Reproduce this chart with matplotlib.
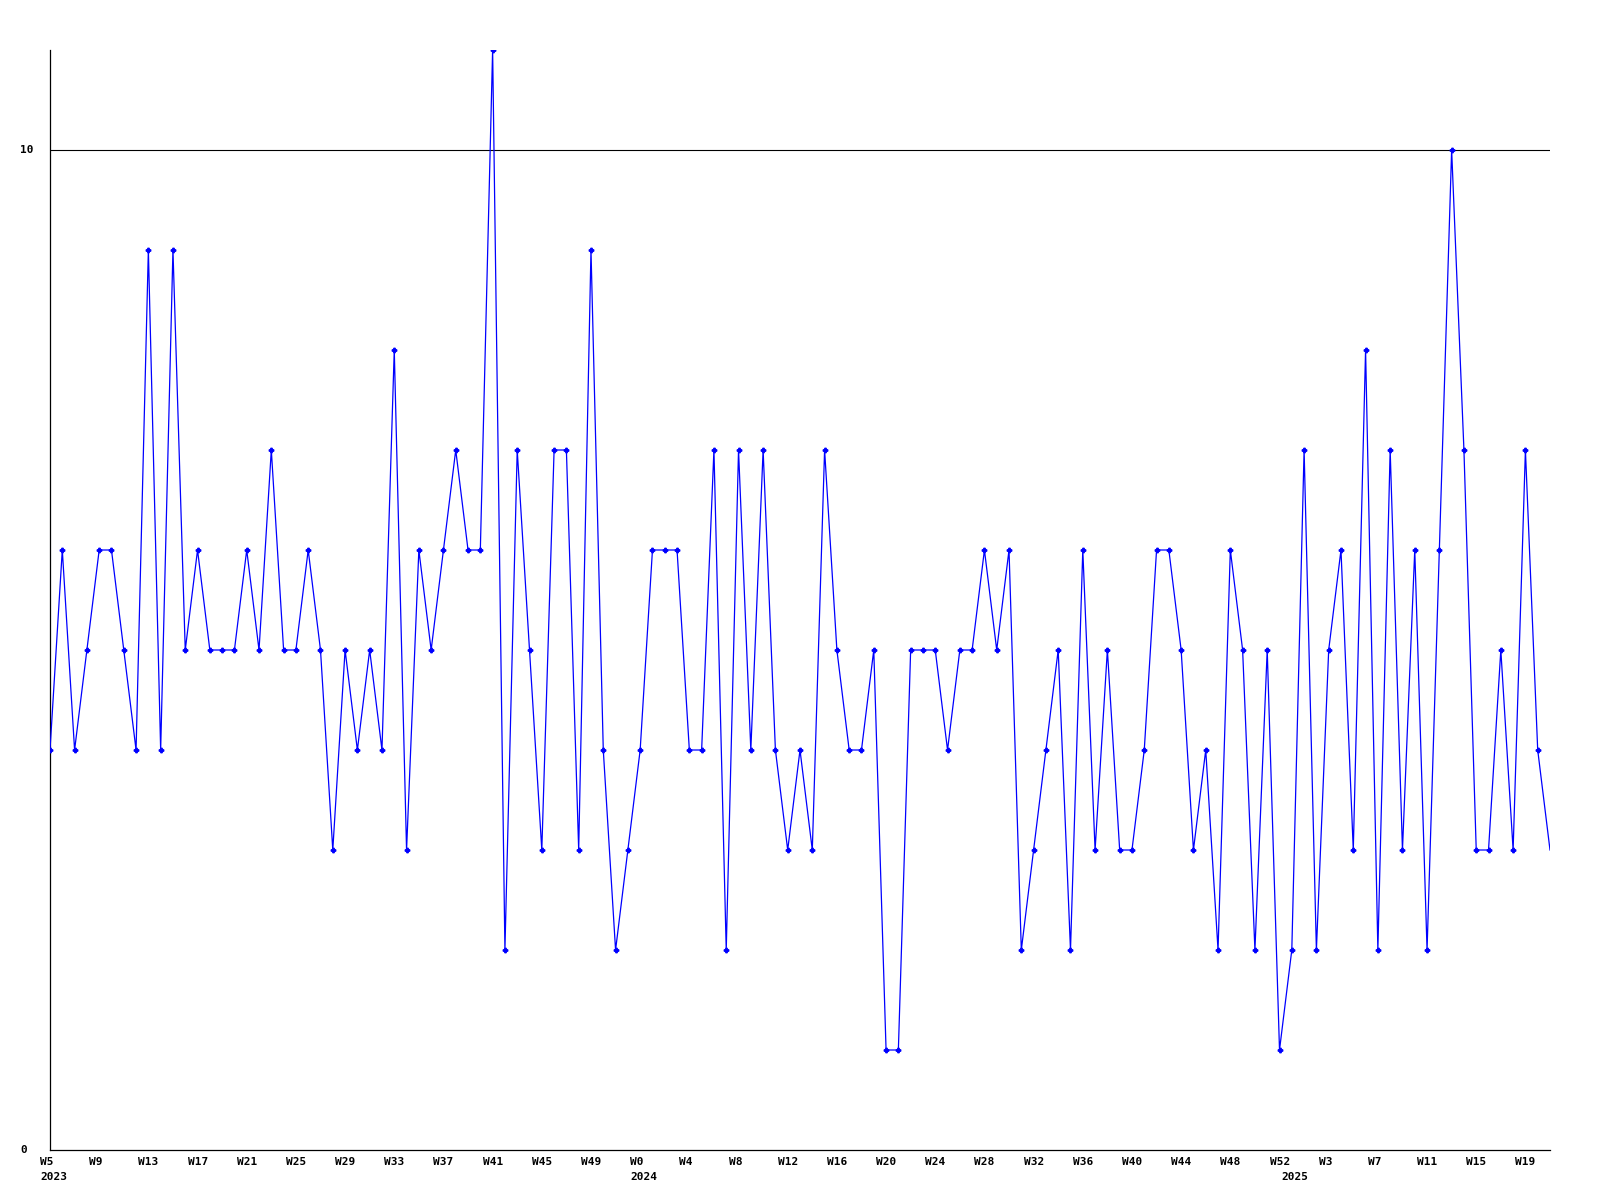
import matplotlib
matplotlib.use("Agg")
import matplotlib.pyplot as plt
import matplotlib.transforms as mtransforms

# weekly counts
years = [2023, 2024, 2025]
weeks_2023 = list(range(5, 53))
weeks_2024 = list(range(0, 53))
weeks_2025 = list(range(0, 22))

values_2023 = [4, 6, 4, 5, 6, 6, 5, 4, 9, 4,
               9, 5, 6, 5, 5, 5, 6, 5, 7, 5,
               5, 6, 5, 3, 5, 4, 5, 4, 8, 3,
               6, 5, 6, 7, 6, 6, 11, 2, 7, 5,
               3, 7, 7, 3, 9, 4, 2, 3]
values_2024 = [4, 6, 6, 6, 4, 4, 7, 2, 7, 4,
               7, 4, 3, 4, 3, 7, 5, 4, 4, 5,
               1, 1, 5, 5, 5, 4, 5, 5, 6, 5,
               6, 2, 3, 4, 5, 2, 6, 3, 5, 3,
               3, 4, 6, 6, 5, 3, 4, 2, 6, 5,
               2, 5, 1]
values_2025 = [2, 7, 2, 5, 6, 3, 8, 2, 7, 3,
               6, 2, 6, 10, 7, 3, 3, 5, 3, 7,
               4, 3]

y_ticks = [0, 10]


def main():
    weeks = weeks_2023 + weeks_2024 + weeks_2025
    values = values_2023 + values_2024 + values_2025
    year_of = [2023] * len(weeks_2023) + [2024] * len(weeks_2024) + [2025] * len(weeks_2025)
    x = list(range(len(values)))

    fig = plt.figure(figsize=(16, 12), dpi=100)
    ax = fig.add_axes([50 / 1600, 50 / 1200, 1500 / 1600, 1100 / 1200])

    ax.plot(x, values, color="#0000ff", lw=0.9, marker="P", ms=3.2,
            markevery=list(range(len(values) - 1)), zorder=3)
    ax.axhline(10, color="black", lw=0.8, zorder=2)

    ax.set_xlim(0, len(values) - 1)
    ax.set_ylim(0, 11)
    for side in ["top", "right"]:
        ax.spines[side].set_visible(False)
    for side in ["left", "bottom"]:
        ax.spines[side].set_linewidth(0.9)
        ax.spines[side].set_color("black")
    ax.set_xticks([])
    ax.set_yticks([])

    font = dict(family="DejaVu Sans Mono", fontweight="bold", fontsize=8, color="black")

    # x labels: every 4th week, left edge ~10px before the point
    shift = mtransforms.ScaledTranslation(-10 / 100, 0, fig.dpi_scale_trans)
    xtrans = mtransforms.blended_transform_factory(ax.transData, fig.transFigure) + shift
    for i in range(0, len(weeks), 4):
        ax.text(i, 1 - 1162 / 1200, "W%d" % weeks[i], transform=xtrans,
                ha="left", va="center", **font)
    for yr in years:
        i = year_of.index(yr)
        ax.text(i, 1 - 1177 / 1200, str(yr), transform=xtrans,
                ha="left", va="center", **font)

    # y labels
    ytrans = mtransforms.blended_transform_factory(fig.transFigure, ax.transData)
    for v in y_ticks:
        ax.text(20 / 1600, v, str(v), transform=ytrans, ha="left", va="center", **font)

    fig.savefig("out.png", dpi=100, facecolor="white")


if __name__ == "__main__":
    main()
